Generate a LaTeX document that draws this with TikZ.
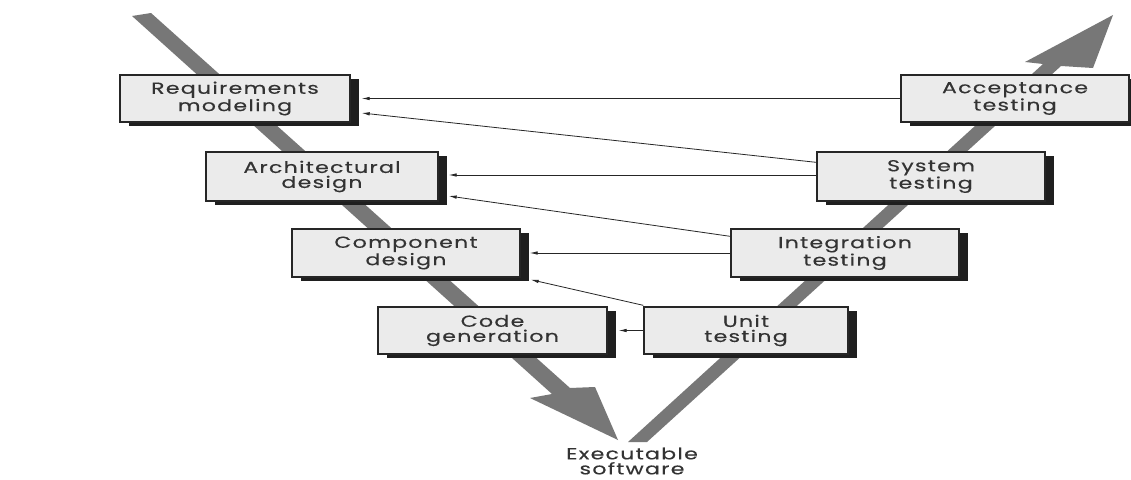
\documentclass[tikz,border=0pt]{standalone}
\usepackage{fontspec}
\usetikzlibrary{calc,arrows.meta,shadows}
\newfontfamily\stagefont{Poppins}[FakeStretch=1.38,LetterSpace=8,FakeBold=0.4]
\definecolor{flowgray}{HTML}{777777}
\definecolor{boxfill}{HTML}{EBEBEB}
\definecolor{inkgray}{HTML}{333333}
\begin{document}
\begin{tikzpicture}[x=1pt,y=-1pt,
  stage/.style={draw=black!85, line width=1.3pt, fill=boxfill,
    minimum height=47pt, inner sep=0pt, align=center, text=inkgray,
    font=\stagefont\fontsize{16}{15}\selectfont,
    drop shadow={shadow xshift=9pt, shadow yshift=-4pt, fill=black!88, opacity=1}},
  link/.style={draw=black!85, line width=0.8pt, -{Latex[length=8pt,width=3.5pt]}},
  caption/.style={align=center, text=inkgray, inner sep=1pt,
    font=\stagefont\fontsize{16}{15}\selectfont}]
\useasboundingbox (0,0) rectangle (1131,479);
\fill[white] (0,0) rectangle (1131,479);

% descending (design) and ascending (testing) flow arrows
\fill[flowgray] (132,16) -- (151,13) -- (570,388) -- (595,387) -- (618,440)
  -- (530,398) -- (552,394) -- cycle;
\fill[flowgray] (628,442) -- (1043,64) -- (1025,62) -- (1113,15) -- (1093,68)
  -- (1061,66) -- (647,442) -- cycle;

% design side
\node[stage, minimum width=230pt] (req)  at (235,98.5)  {Requirements\\modeling};
\node[stage, minimum width=232pt, minimum height=49pt] (arch) at (322,176.5) {Architectural\\design};
\node[stage, minimum width=228pt, minimum height=48pt] (comp) at (406,253)   {Component\\design};
\node[stage, minimum width=229pt] (code) at (492.5,330.5) {Code\\generation};

% testing side
\node[stage, minimum width=204pt] (unit) at (746,330.5) {Unit\\testing};
\node[stage, minimum width=228pt, minimum height=48pt] (integ) at (845,253) {Integration\\testing};
\node[stage, minimum width=228pt, minimum height=49pt] (sys) at (931,176.5) {System\\testing};
\node[stage, minimum width=228pt] (acc) at (1015,98.5) {Acceptance\\testing};

\node[caption] (exe) at (632,461) {Executable\\software};

% verification links back to the design stages
\draw[link] (acc.west) -- ($(req.east)+(11,0)$);
\draw[link] ($(sys.north west)+(0,11)$) -- ($(req.east)+(11,14.5)$);
\draw[link] ($(sys.west)+(0,-1.5)$) -- ($(arch.east)+(10,-1.5)$);
\draw[link] ($(integ.north west)+(0,8)$) -- ($(arch.east)+(10,19.5)$);
\draw[link] (integ.west) -- ($(comp.east)+(9,0)$);
\draw[link] ($(unit.north west)+(0,-1)$) -- ($(comp.south east)+(10,2)$);
\draw[link] (unit.west) -- ($(code.east)+(11,0)$);
\end{tikzpicture}
\end{document}
